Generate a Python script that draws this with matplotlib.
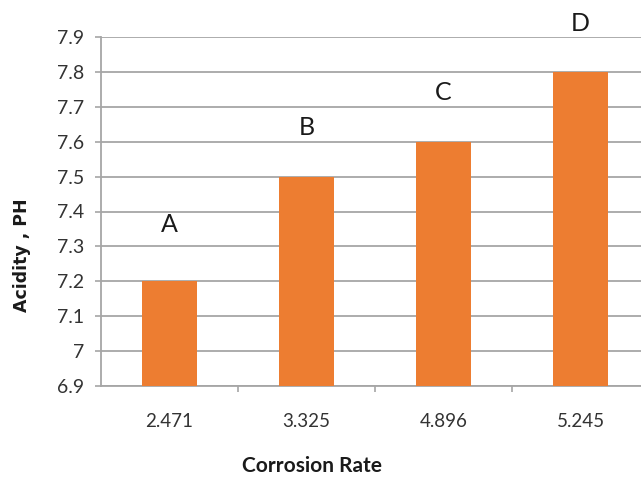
import matplotlib
matplotlib.use("Agg")
import matplotlib.pyplot as plt
from matplotlib import font_manager

# Data
rates = ["2.471", "3.325", "4.896", "5.245"]
ph_values = [7.2, 7.5, 7.6, 7.8]
bar_tags = ["A", "B", "C", "D"]
y_ticks = [6.9, 7.0, 7.1, 7.2, 7.3, 7.4, 7.5, 7.6, 7.7, 7.8, 7.9]
y_tick_labels = ["6.9", "7", "7.1", "7.2", "7.3", "7.4", "7.5", "7.6", "7.7", "7.8", "7.9"]

available = {f.name for f in font_manager.fontManager.ttflist}
narrow = "Liberation Sans Narrow" if "Liberation Sans Narrow" in available else "Lato"

BAR_COLOR = "#ED7D31"
GRID_COLOR = "#A6A6A6"

fig = plt.figure(figsize=(6.41, 4.83), dpi=100)
W, H = 641, 483
ax = fig.add_axes([101 / W, 1 - 386 / H, 548 / W, 349 / H])

x = list(range(len(rates)))
ax.bar(x, ph_values, width=0.4, color=BAR_COLOR, zorder=3)

ax.set_xlim(-0.5, len(rates) - 0.5)
ax.set_ylim(6.9, 7.9)

ax.set_yticks(y_ticks)
ax.set_yticklabels(y_tick_labels, fontfamily=narrow, fontsize=14, color="#333333")
ax.tick_params(axis="y", length=4.5, width=1.2, color=GRID_COLOR, pad=7.5)
ax.yaxis.grid(True, color=GRID_COLOR, linewidth=1.3, zorder=0)

ax.set_xticks(x)
ax.set_xticklabels(rates, fontfamily=narrow, fontsize=13.5, color="#333333")
ax.tick_params(axis="x", length=0, pad=19.5)
ax.set_xticks([i + 0.5 for i in x[:-1]], minor=True)
ax.tick_params(axis="x", which="minor", length=4.5, width=1.2, color=GRID_COLOR)

for side in ("top", "right"):
    ax.spines[side].set_visible(False)
for side in ("left", "bottom"):
    ax.spines[side].set_color(GRID_COLOR)
    ax.spines[side].set_linewidth(1.3)

# Letter tags above the bars
offsets = [57, 49, 49, 48]
for xi, val, tag, off in zip(x, ph_values, bar_tags, offsets):
    ax.annotate(tag, (xi, val), xytext=(0, off), textcoords="offset pixels",
                ha="center", va="center", fontfamily=narrow, fontsize=18,
                color="#1a1a1a", annotation_clip=False)

fig.text(312 / W, 1 - 466 / H, "Corrosion Rate", ha="center", va="center",
         fontfamily=narrow, fontweight="bold", fontsize=15, color="#1a1a1a")
fig.text(22 / W, 1 - 255 / H, "Acidity , PH", ha="center", va="center",
         rotation=90, fontfamily="DejaVu Sans", fontweight="bold", fontsize=12.5,
         color="#1a1a1a")

fig.savefig("out.png", dpi=100)
